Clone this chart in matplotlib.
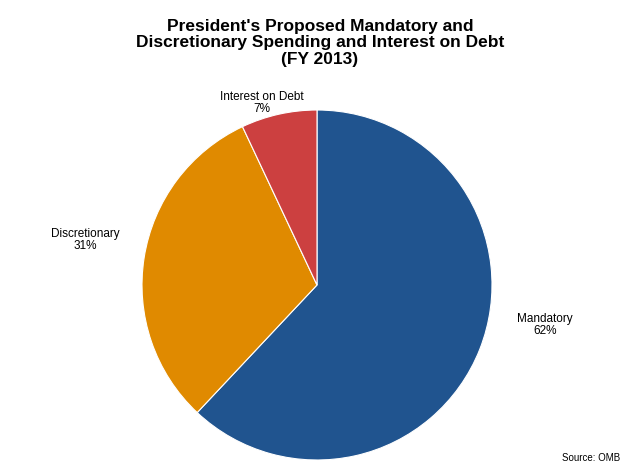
import matplotlib.pyplot as plt

plt.rcParams['font.family'] = ['Liberation Sans', 'DejaVu Sans']

labels = ["Mandatory", "Discretionary", "Interest on Debt"]
shares = [62, 31, 7]
colors = ["#20548f", "#e08a00", "#cc4040"]

fig = plt.figure(figsize=(6.4, 4.75), dpi=100)
ax = fig.add_axes([317/640 - 175/640, 190/475 - 175/475, 350/640, 350/475])
wedges, _ = ax.pie(shares, colors=colors, startangle=90, counterclock=False,
                   wedgeprops=dict(edgecolor="white", linewidth=0.8))
ax.set_xlim(-1, 1)
ax.set_ylim(-1, 1)
ax.set_aspect("equal")

# label positions in figure pixels (from top-left)
label_pos = [(545, 325), (85, 240), (262, 103)]
for lab, val, (px, py) in zip(labels, shares, label_pos):
    fig.text(px/640, 1 - py/475, f"{lab}\n{val}%", ha="center", va="center",
             fontsize=8.5, linespacing=1.1)

fig.text(0.5, 1 - 43/475,
         "President's Proposed Mandatory and\nDiscretionary Spending and Interest on Debt\n(FY 2013)",
         ha="center", va="center", fontsize=12.5, fontweight="bold", linespacing=1.15)
fig.text(620/640, 1 - 458/475, "Source: OMB", ha="right", va="center", fontsize=7)

fig.savefig("out.png", dpi=100)
